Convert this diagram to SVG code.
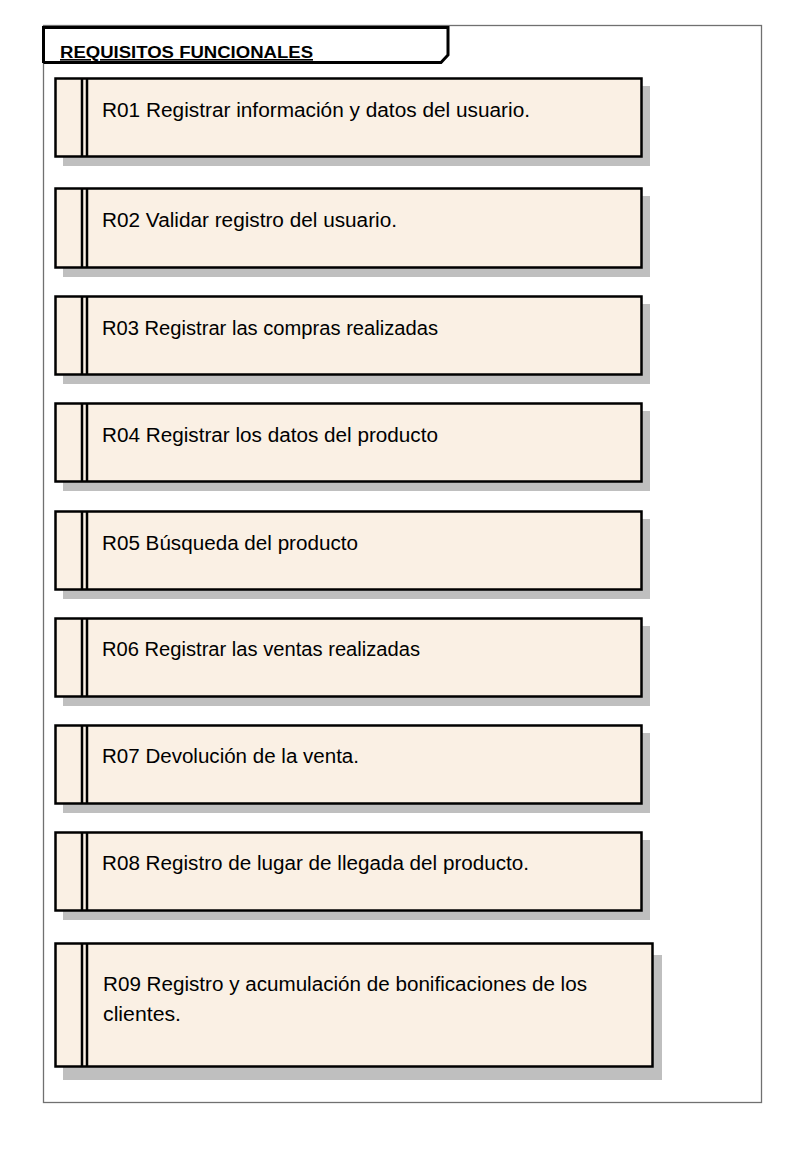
<svg xmlns="http://www.w3.org/2000/svg" width="811" height="1150" viewBox="0 0 811 1150">
<style>
.frame{fill:#fff;stroke:#707070;stroke-width:1.3}
.tab{fill:#fff;stroke:#000;stroke-width:3}
.sh{fill:#bfbfbf}
.bx{fill:#faf0e4;stroke:#000;stroke-width:2.5}
.ln{stroke:#000;stroke-width:2.5}
.t{font-family:"Liberation Sans",Arial,sans-serif;font-size:19.5px;fill:#000}
.h{font-family:"Liberation Sans",Arial,sans-serif;font-size:16px;font-weight:bold;fill:#000;text-decoration:underline}
</style>
<rect class="frame" x="43.5" y="25.5" width="718" height="1077"/>
<g id="header">
<path class="tab" d="M43.5,63 V27.5 H448 V55 L441,62.5 H43.5 Z"/>
<text class="h" x="60" y="58" textLength="253" lengthAdjust="spacingAndGlyphs">REQUISITOS FUNCIONALES</text>
</g>
<g id="r01">
<rect class="sh" x="63" y="86" width="587" height="80"/>
<rect class="bx" x="55.5" y="78.5" width="586" height="78"/>
<line class="ln" x1="82" y1="78" x2="82" y2="157"/><line class="ln" x1="87" y1="78" x2="87" y2="157"/>
<text class="t" x="102" y="117" textLength="428" lengthAdjust="spacingAndGlyphs">R01 Registrar información y datos del usuario.</text>
</g>
<g id="r02">
<rect class="sh" x="63" y="196" width="587" height="81"/>
<rect class="bx" x="55.5" y="188.5" width="586" height="79"/>
<line class="ln" x1="82" y1="188" x2="82" y2="268"/><line class="ln" x1="87" y1="188" x2="87" y2="268"/>
<text class="t" x="102" y="227" textLength="295" lengthAdjust="spacingAndGlyphs">R02 Validar registro del usuario.</text>
</g>
<g id="r03">
<rect class="sh" x="63" y="304" width="587" height="80"/>
<rect class="bx" x="55.5" y="296.5" width="586" height="78"/>
<line class="ln" x1="82" y1="296" x2="82" y2="375"/><line class="ln" x1="87" y1="296" x2="87" y2="375"/>
<text class="t" x="102" y="335" textLength="336" lengthAdjust="spacingAndGlyphs">R03 Registrar las compras realizadas</text>
</g>
<g id="r04">
<rect class="sh" x="63" y="411" width="587" height="80"/>
<rect class="bx" x="55.5" y="403.5" width="586" height="78"/>
<line class="ln" x1="82" y1="403" x2="82" y2="482"/><line class="ln" x1="87" y1="403" x2="87" y2="482"/>
<text class="t" x="102" y="442" textLength="336" lengthAdjust="spacingAndGlyphs">R04 Registrar los datos del producto</text>
</g>
<g id="r05">
<rect class="sh" x="63" y="519" width="587" height="80"/>
<rect class="bx" x="55.5" y="511.5" width="586" height="78"/>
<line class="ln" x1="82" y1="511" x2="82" y2="590"/><line class="ln" x1="87" y1="511" x2="87" y2="590"/>
<text class="t" x="102" y="550" textLength="256" lengthAdjust="spacingAndGlyphs">R05 Búsqueda del producto</text>
</g>
<g id="r06">
<rect class="sh" x="63" y="626" width="587" height="80"/>
<rect class="bx" x="55.5" y="618.5" width="586" height="78"/>
<line class="ln" x1="82" y1="618" x2="82" y2="697"/><line class="ln" x1="87" y1="618" x2="87" y2="697"/>
<text class="t" x="102" y="656" textLength="318" lengthAdjust="spacingAndGlyphs">R06 Registrar las ventas realizadas</text>
</g>
<g id="r07">
<rect class="sh" x="63" y="733" width="587" height="80"/>
<rect class="bx" x="55.5" y="725.5" width="586" height="78"/>
<line class="ln" x1="82" y1="725" x2="82" y2="804"/><line class="ln" x1="87" y1="725" x2="87" y2="804"/>
<text class="t" x="102" y="763" textLength="257" lengthAdjust="spacingAndGlyphs">R07 Devolución de la venta.</text>
</g>
<g id="r08">
<rect class="sh" x="63" y="840" width="587" height="80"/>
<rect class="bx" x="55.5" y="832.5" width="586" height="78"/>
<line class="ln" x1="82" y1="832" x2="82" y2="911"/><line class="ln" x1="87" y1="832" x2="87" y2="911"/>
<text class="t" x="102" y="870" textLength="427" lengthAdjust="spacingAndGlyphs">R08 Registro de lugar de llegada del producto.</text>
</g>
<g id="r09">
<rect class="sh" x="63" y="955" width="599" height="125"/>
<rect class="bx" x="55.5" y="943.5" width="597" height="123"/>
<line class="ln" x1="82" y1="943" x2="82" y2="1067"/><line class="ln" x1="87" y1="943" x2="87" y2="1067"/>
<text class="t" x="103" y="991" textLength="484" lengthAdjust="spacingAndGlyphs">R09 Registro y acumulación de bonificaciones de los</text>
<text class="t" x="103" y="1021" textLength="78" lengthAdjust="spacingAndGlyphs">clientes.</text>
</g>
</svg>
